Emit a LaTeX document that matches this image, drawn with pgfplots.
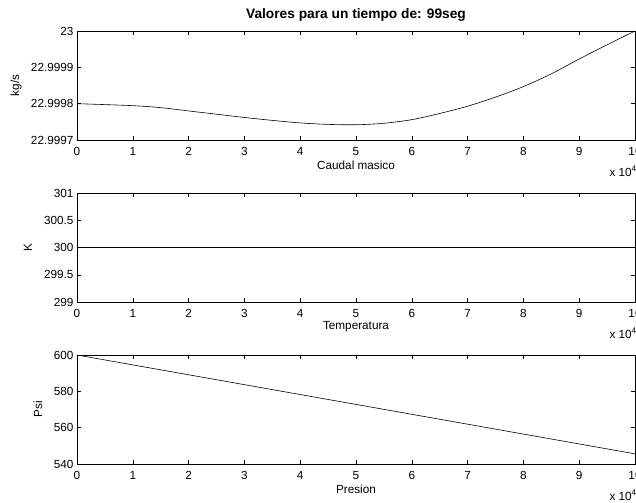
\documentclass[border=0pt]{standalone}
\usepackage{pgfplots}
\pgfplotsset{compat=1.18}
\usepackage{fontspec}
\setmainfont{Liberation Sans}
\begin{document}
\begin{tikzpicture}[x=1bp,y=1bp]
\pgfplotsset{
  mat/.style={
    scale only axis, width=558bp, height=109bp,
    xmin=0, xmax=100000,
    scaled x ticks=false,
    xtick={0,10000,20000,30000,40000,50000,60000,70000,80000,90000,100000},
    xticklabels={0,1,2,3,4,5,6,7,8,9,10},
    tick align=inside, xtick pos=both, ytick pos=both,
    major tick length=4bp,
    tick style={black, line width=0.5pt},
    axis line style={black, line width=0.6pt},
    font=\fontsize{11.8}{13}\selectfont,
    /pgf/number format/assume math mode=true,
    xticklabel style={yshift=-4bp},
    yticklabel style={xshift=0bp},
    xlabel style={at={(axis description cs:0.5,0)}, anchor=center, yshift=-25bp},
    clip=false,
  }
}
% Caudal masico (y stored as (y - 22.9997)*1e4 for numeric precision)
\begin{axis}[mat, at={(77bp,-140bp)}, anchor=south west,
  ymin=0, ymax=3, ytick={0,1,2,3},
  yticklabels={22.9997,22.9998,22.9999,23},
  xlabel={Caudal masico}, ylabel={kg/s},
  ylabel style={at={(axis description cs:-0.109,0.5)}, anchor=center},
  title={\fontsize{13.8}{15}\selectfont\bfseries Valores para un tiempo de: 99seg},
  title style={at={(axis description cs:0.5,1)}, anchor=center, yshift=10bp}]
\addplot[black, line width=0.6pt, smooth] table {
x y
0 1.00
10000 0.945
15000 0.89
20000 0.80
25000 0.71
30000 0.62
35000 0.54
40000 0.47
45000 0.43
50000 0.42
55000 0.46
60000 0.56
65000 0.73
70000 0.93
75000 1.18
80000 1.47
85000 1.82
90000 2.23
95000 2.62
100000 3.00
};
\node[anchor=north east, inner sep=0pt] at (rel axis cs:1,0) [yshift=-26bp, xshift=2bp] {x 10\textsuperscript{4}};
\end{axis}
% Temperatura
\begin{axis}[mat, at={(77bp,-302bp)}, anchor=south west,
  ymin=299, ymax=301, ytick={299,299.5,300,300.5,301},
  yticklabels={299,299.5,300,300.5,301},
  xlabel={Temperatura}, ylabel={K},
  ylabel style={at={(axis description cs:-0.088,0.5)}, anchor=center}]
\addplot[black, line width=0.6pt] table {
x y
0 300
100000 300
};
\node[anchor=north east, inner sep=0pt] at (rel axis cs:1,0) [yshift=-26bp, xshift=2bp] {x 10\textsuperscript{4}};
\end{axis}
% Presion
\begin{axis}[mat, at={(77bp,-464bp)}, anchor=south west,
  ymin=540, ymax=600, ytick={540,560,580,600},
  yticklabels={540,560,580,600},
  xlabel={Presion}, ylabel={Psi},
  ylabel style={at={(axis description cs:-0.07,0.5)}, anchor=center}]
\addplot[black, line width=0.6pt] table {
x y
0 600
100000 545.6
};
\node[anchor=north east, inner sep=0pt] at (rel axis cs:1,0) [yshift=-26bp, xshift=2bp] {x 10\textsuperscript{4}};
\end{axis}
\pgfresetboundingbox
\path[use as bounding box] (0,0) rectangle (636bp,-503bp);
\end{tikzpicture}
\end{document}
